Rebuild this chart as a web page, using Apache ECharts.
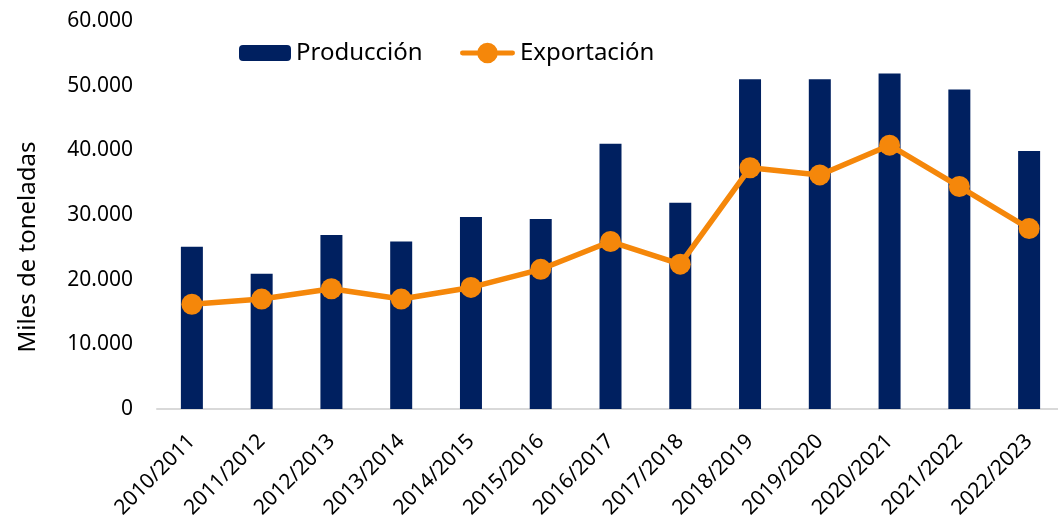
<!DOCTYPE html>
<html>
<head>
<meta charset="utf-8">
<script src="https://cdn.jsdelivr.net/npm/echarts@6/dist/echarts.min.js"></script>
<style>
  html, body { margin: 0; padding: 0; background: #fff; }
  #chart { width: 1058px; height: 519px; }
</style>
</head>
<body>
<div id="chart"></div>
<script>
// campaign labels
const campaigns = ['2010/2011', '2011/2012', '2012/2013', '2013/2014', '2014/2015', '2015/2016', '2016/2017',
  '2017/2018', '2018/2019', '2019/2020', '2020/2021', '2021/2022', '2022/2023']
// miles de toneladas
const produccion = [25100, 20900, 26900, 25900, 29700, 29400, 41000, 31900, 51000, 51000, 51900, 49400, 39900]
const exportacion = [16200, 17000, 18600, 17000, 18800, 21600, 25900, 22400, 37300, 36200, 40800, 34400, 27900]

const fontFamily = '"Noto Sans", "Open Sans", sans-serif'
const barColor = '#002060'
const lineColor = '#f5870a'

const formatMiles = (v) => String(v).replace(/\B(?=(\d{3})+(?!\d))/g, '.')

// line + dot legend icon, like the spreadsheet one
const lineDotIcon = 'path://M2,8 L53,8 A2.5,2.5 0 0 1 53,13 L2,13 A2.5,2.5 0 0 1 2,8 Z ' +
  'M17,10.5 A10.5,10.5 0 1 1 38,10.5 A10.5,10.5 0 1 1 17,10.5 Z'

const chart = echarts.init(document.getElementById('chart'))
chart.setOption({
  animation: false,
  textStyle: { fontFamily },
  legend: [{
    left: 239,
    top: 41,
    padding: 0,
    itemWidth: 52,
    itemHeight: 16,
    textStyle: { fontSize: 24, color: '#000', fontFamily },
    data: ['Producción']
  }, {
    left: 460,
    top: 41,
    padding: 0,
    itemWidth: 55,
    itemHeight: 21,
    textStyle: { fontSize: 24, color: '#000', fontFamily },
    data: [{ name: 'Exportación', icon: lineDotIcon, itemStyle: { color: lineColor } }]
  }],
  grid: {
    left: 157,
    top: 21,
    width: 907,
    bottom: 110,
    containLabel: false,
    outerBoundsMode: 'none'
  },
  graphic: [{
    type: 'text',
    x: 28,
    y: 247,
    rotation: Math.PI / 2,
    style: {
      text: 'Miles de toneladas',
      fill: '#000',
      fontSize: 24,
      fontFamily,
      align: 'center',
      verticalAlign: 'middle'
    }
  }],
  xAxis: {
    type: 'category',
    data: campaigns,
    axisLine: { lineStyle: { color: '#d9d9d9', width: 2 } },
    axisTick: { show: false },
    axisLabel: {
      rotate: 45,
      interval: 0,
      margin: 29,
      fontSize: 21,
      color: '#000'
    }
  },
  yAxis: {
    type: 'value',
    min: 0,
    max: 60000,
    interval: 10000,
    splitLine: { show: false },
    axisLine: { show: false },
    axisTick: { show: false },
    axisLabel: {
      margin: 24,
      fontSize: 21,
      color: '#000',
      formatter: formatMiles
    }
  },
  series: [{
    name: 'Producción',
    type: 'bar',
    data: produccion,
    barWidth: 22,
    itemStyle: { color: barColor }
  }, {
    name: 'Exportación',
    type: 'line',
    data: exportacion,
    symbol: 'circle',
    symbolSize: 21,
    itemStyle: { color: lineColor },
    lineStyle: { color: lineColor, width: 5.5 }
  }]
})
</script>
</body>
</html>
